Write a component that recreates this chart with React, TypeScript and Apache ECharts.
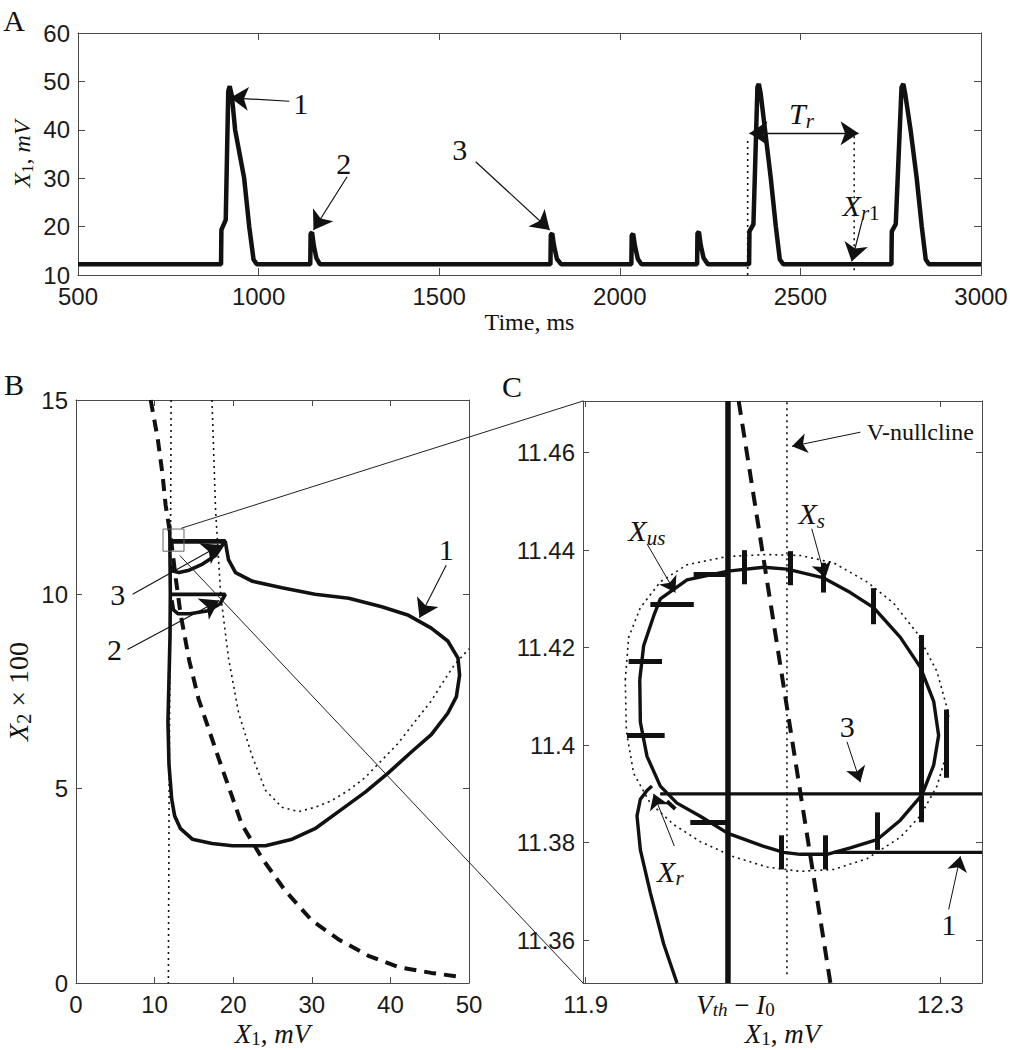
import React, { useEffect, useRef } from "react";
import * as echarts from "echarts";

const SERIF = "Liberation Serif";
const SANS = "Liberation Sans";
const INK = "#111";
const AX = "#4a4a4a";

// ---------- Panel A : X1 (mV) vs time (ms) ----------
const timeA = [500, 896, 897, 909, 916, 920, 926, 935, 960, 974, 986, 995,
  1143, 1144, 1148, 1153, 1160, 1170,
  1808, 1809, 1813, 1818, 1826, 1838,
  2032, 2033, 2037, 2042, 2050, 2060,
  2214, 2215, 2219, 2224, 2232, 2244,
  2358, 2359, 2370, 2381, 2385, 2390, 2402, 2418, 2432, 2443, 2453,
  2752, 2753, 2764, 2780, 2785, 2790, 2805, 2822, 2836, 2847, 2856, 3000];
const x1A = [12.2, 12.2, 19.3, 21.4, 48, 49, 47, 40, 30, 20, 13.2, 12.2,
  12.2, 18.5, 18.8, 16, 13.5, 12.2,
  12.2, 18.3, 18.6, 16, 13.3, 12.2,
  12.2, 18.2, 18.5, 16, 13.3, 12.2,
  12.2, 18.6, 18.9, 16.2, 13.5, 12.2,
  12.2, 19, 20.5, 48.8, 49.5, 47.5, 40, 30, 20, 13.2, 12.2,
  12.2, 19, 20.5, 48.8, 49.5, 47.5, 40, 30, 20, 13.2, 12.2, 12.2];
const arrowsA = [[1085, 45.9, 922, 46.6], [1245, 30.3, 1152, 19.3], [1601, 33.4, 1806, 19.3], [2672, 21.5, 2642, 12.8]];
const periodArrowA = [[2359, 39.3, 2661, 39.3]];
const dottedA = [[2354, 10, 2354, 38.3], [2649, 11, 2649, 39.3]];
const labelsA = [
  { at: [1117, 45.5], text: "1" },
  { at: [1236, 33.1], text: "2" },
  { at: [1557, 35.9], text: "3" },
  { at: [2503, 43.3], text: "{i|T}{s|r}", rich: true },
  { at: [2668, 24.3], text: "{i|X}{s|r}{sr|1}", rich: true },
];

// ---------- Panel B : phase plane X2*100 vs X1 ----------
const dashBX = [9.5, 10.4, 11.0, 11.4, 12.1, 12.7, 13.3, 14.4, 15.6, 18.2, 21.1, 23.7, 26.6, 30.0, 33.4, 37.2, 41.0, 45.2, 49.2];
const dashBY = [15.0, 14.0, 13.1, 12.3, 11.4, 10.4, 9.5, 8.3, 7.3, 5.75, 4.08, 3.2, 2.38, 1.61, 1.12, 0.7, 0.41, 0.26, 0.15];
const vNullBX = [12.1, 12.0, 11.85, 11.75];
const vNullBY = [15, 10, 5, 0];
const uNullBX = [17.3, 17.75, 18.4, 19.4, 20.7, 22.4, 24.1, 26.2, 28.3, 30.4, 32.5, 34.7, 36.8, 38.9, 41.0, 43.1, 45.2, 46.9, 48.2, 50];
const uNullBY = [15, 12.2, 10.0, 8.36, 6.94, 5.84, 4.96, 4.52, 4.41, 4.52, 4.69, 4.96, 5.29, 5.73, 6.17, 6.72, 7.26, 7.81, 8.2, 8.6];
const traj1BX = [11.9, 11.95, 19.0, 19.4, 20.3, 22.4, 26.2, 30.4, 34.7, 38.9, 42.3, 45.2, 47.3, 48.6, 48.8, 48.4, 47.3, 45.2, 42.7, 39.7, 36.8, 33.4, 30.4, 27.5, 24.1, 19.9, 17.3, 14.8, 13.3, 12.55, 12.17, 11.83, 11.7, 11.83, 11.96, 12.0, 11.95, 11.95];
const traj1BY = [11.8, 11.35, 11.35, 10.89, 10.56, 10.34, 10.17, 10.0, 9.9, 9.68, 9.46, 9.13, 8.8, 8.36, 7.92, 7.37, 6.94, 6.39, 5.95, 5.40, 4.91, 4.41, 3.97, 3.70, 3.53, 3.53, 3.59, 3.70, 3.97, 4.30, 4.74, 5.62, 6.72, 7.81, 8.91, 10.0, 11.1, 11.35];
const traj2BX = [12.2, 19.0, 18.3, 16.8, 14.5, 13.0, 12.4, 12.2];
const traj2BY = [10.0, 10.0, 9.75, 9.58, 9.5, 9.5, 9.6, 9.85];
const traj3BX = [12.05, 19.0, 17.75, 16.1, 14.4, 13.1, 12.3, 12.05];
const traj3BY = [11.38, 11.38, 11.0, 10.78, 10.62, 10.56, 10.6, 10.75];
const rectBX = [11.07, 13.74, 13.74, 11.07, 11.07];
const rectBY = [11.11, 11.11, 11.68, 11.68, 11.11];
const arrowsB = [[47.1, 10.75, 43.7, 9.4], [6.55, 8.58, 18.2, 9.84], [7.2, 10.0, 18.4, 11.27]];
const labelsB = [
  { at: [47.1, 11.15], text: "1" },
  { at: [4.9, 8.58], text: "2" },
  { at: [5.3, 10.0], text: "3" },
];
const zoomFromB = [[13.4, 11.7], [13.2, 11.0]];

// ---------- Panel C : zoom near the resting point ----------
const cMin = [11.897, 11.3512];
const cMax = [12.347, 11.4706];
const vThMinusI0 = 12.0605;
const cycCX = [11.961, 11.9654, 11.9767, 11.9842, 12.0143, 12.0605, 12.1008, 12.1271, 12.1684, 12.1985, 12.2248, 12.2549, 12.2774, 12.2925, 12.2981, 12.2925, 12.2793, 12.2549, 12.2286, 12.1985, 12.1722, 12.1421, 12.1233, 12.1, 12.0605, 12.0293, 12.003, 11.9842, 11.9692, 11.9617, 11.961];
const cycCY = [11.4134, 11.4204, 11.4265, 11.43, 11.4339, 11.4357, 11.4365, 11.4361, 11.4343, 11.4313, 11.4282, 11.4221, 11.416, 11.409, 11.402, 11.3959, 11.3898, 11.3846, 11.3806, 11.3789, 11.3776, 11.3776, 11.378, 11.3793, 11.3819, 11.3854, 11.3881, 11.3916, 11.3977, 11.4047, 11.4134];
const dotEllCX = [11.9447, 11.9485, 11.9617, 11.9842, 12.0143, 12.0594, 12.1045, 12.1421, 12.1797, 12.2173, 12.2474, 12.2737, 12.2962, 12.3094, 12.3075, 12.2962, 12.2774, 12.2549, 12.2173, 12.1797, 12.1421, 12.1045, 12.0669, 12.0293, 11.9993, 11.9729, 11.9541, 11.9459, 11.9447];
const dotEllCY = [11.4134, 11.4221, 11.4282, 11.4335, 11.437, 11.4387, 11.4391, 11.4389, 11.4374, 11.4335, 11.4291, 11.423, 11.4151, 11.4064, 11.3985, 11.3916, 11.3855, 11.3811, 11.3767, 11.3745, 11.3741, 11.375, 11.3771, 11.3802, 11.3837, 11.3881, 11.3942, 11.4029, 11.4134];
const hookCX = [12.003, 11.988, 11.973, 11.9617, 11.9579, 11.9617, 11.9692, 11.9748];
const hookCY = [11.3512, 11.3592, 11.3697, 11.3785, 11.3855, 11.3889, 11.3907, 11.3916];
const dashCX = [12.0726, 12.176];
const dashCY = [11.4706, 11.3512];
const vNullCX = [12.127, 12.127];
const vNullCY = [11.353, 11.4706];
const line3CX = [11.984, 12.347];
const line3CY = [11.39, 11.39];
const line1CX = [12.18, 12.347];
const line1CY = [11.378, 11.378];
const hBarX1 = [12.0218, 11.973, 11.9485, 11.9466, 12.018];
const hBarX2 = [12.0605, 12.022, 11.9861, 11.9891, 12.059];
const hBarY = [11.4351, 11.4289, 11.4173, 11.4021, 11.3842];
const vBarX = [12.0793, 12.1308, 12.1677, 12.2248, 12.2782, 12.3068, 12.2286, 12.1703, 12.1207];
const vBarY1 = [11.433, 11.4328, 11.4313, 11.4248, 11.3842, 11.3933, 11.3785, 11.3745, 11.3745];
const vBarY2 = [11.44, 11.4398, 11.4374, 11.4322, 11.4226, 11.4073, 11.3862, 11.3815, 11.3815];
const tailC = [[11.9917, 11.3885, 12.0011, 11.3869]];
const arrowsC = [
  [12.2098, 11.4642, 12.1327, 11.4613],
  [12.155, 11.4444, 12.1703, 11.4343],
  [11.9692, 11.4413, 12.0011, 11.4313],
  [12.1947, 11.4007, 12.2098, 11.3924],
  [12.3094, 11.3663, 12.3226, 11.3772],
  [12.0, 11.3793, 11.9767, 11.39],
];
const labelsC = [
  { at: [12.2775, 11.4642], text: "V-nullcline", size: 24 },
  { at: [12.155, 11.4475], text: "{i|X}{s|s}", rich: true },
  { at: [11.969, 11.444], text: "{i|X}{s|us}", rich: true },
  { at: [12.195, 11.4038], text: "3" },
  { at: [12.3094, 11.3632], text: "1" },
  { at: [11.9955, 11.3741], text: "{i|X}{s|r}", rich: true },
];
const cTicksX = [11.9, 12.3];
const cLabelsX = [11.9, 12.069, 12.3];
const cTicksY = [11.36, 11.38, 11.4, 11.42, 11.44, 11.46];

function pairs(xs: number[], ys: number[]) {
  return xs.map((x, i) => [x, ys[i]]);
}

function mathRich(size: number, lhf = 1.15) {
  const lh = Math.round(size * lhf);
  const sub = Math.round(size * 0.7);
  return {
    i: { fontFamily: SERIF, fontStyle: "italic", fontSize: size, lineHeight: lh, color: INK },
    r: { fontFamily: SERIF, fontSize: size, lineHeight: lh, color: INK },
    s: { fontFamily: SERIF, fontStyle: "italic", fontSize: sub, lineHeight: sub, verticalAlign: "bottom", color: INK },
    sr: { fontFamily: SERIF, fontSize: sub, lineHeight: sub, verticalAlign: "bottom", color: INK },
  };
}

function axis(gridIndex: number, min: number, max: number, o: any) {
  const a: any = {
    type: "value",
    gridIndex,
    min,
    max,
    position: o.position,
    axisLine: { show: true, onZero: false, lineStyle: { color: AX, width: 1 } },
    axisTick: { show: true, inside: true, length: o.tickLen || 6, lineStyle: { color: AX, width: 1 } },
    axisLabel: {
      show: !!o.labels,
      fontFamily: SANS,
      fontSize: 24,
      lineHeight: o.labelLH || 26,
      color: "#1a1a1a",
      margin: o.labelMargin || 8,
      showMinLabel: true,
      showMaxLabel: true,
      formatter: (v: number) => String(v),
    },
    splitLine: { show: false },
  };
  if (o.interval) a.interval = o.interval;
  if (o.ticks) {
    a.axisTick.customValues = o.ticks;
    a.axisLabel.customValues = o.labelsAt || o.ticks;
  }
  if (o.formatter) a.axisLabel.formatter = o.formatter;
  if (o.rich) a.axisLabel.rich = o.rich;
  if (o.name) {
    a.name = o.name;
    a.nameLocation = "middle";
    a.nameGap = o.nameGap;
    a.nameTextStyle = o.nameStyle;
    a.nameMoveOverlap = false;
  }
  return a;
}

function curve(g: number, xs: number[], ys: number[], ls: any, z = 3) {
  return {
    type: "line",
    xAxisIndex: 2 * g,
    yAxisIndex: 2 * g,
    data: pairs(xs, ys),
    symbol: "none",
    silent: true,
    z,
    lineStyle: { color: INK, ...ls },
  };
}

function segments(g: number, list: number[][], ls: any, sym: any, size: number) {
  return {
    type: "line",
    xAxisIndex: 2 * g,
    yAxisIndex: 2 * g,
    data: [],
    symbol: "none",
    silent: true,
    markLine: {
      silent: true,
      animation: false,
      symbol: sym,
      symbolSize: size,
      label: { show: false },
      emphasis: { disabled: true },
      itemStyle: { color: INK },
      lineStyle: { color: INK, type: "solid", ...ls },
      data: list.map((a) => [{ coord: [a[0], a[1]] }, { coord: [a[2], a[3]] }]),
    },
  };
}

const cLabelFmt = (v: number) =>
  Math.abs(v - 12.069) < 1e-6 ? "{i|V}{s|th}{r| − }{i|I}{sr|0}" : v.toFixed(1);

export default function App() {
  const ref = useRef<HTMLDivElement>(null);
  useEffect(() => {
    const chart = echarts.init(ref.current as HTMLDivElement, null, { renderer: "svg" });
    const hBars = hBarY.map((y, i) => [hBarX1[i], y, hBarX2[i], y]);
    const vBars = vBarX.map((x, i) => [x, vBarY1[i], x, vBarY2[i]]);
    const option: any = {
      animation: false,
      backgroundColor: "#ffffff",
      grid: [
        { left: 78, top: 33, width: 903, height: 242, outerBoundsMode: "none" },
        { left: 76, top: 400, width: 393, height: 583, outerBoundsMode: "none" },
        { left: 583, top: 401, width: 399, height: 582, outerBoundsMode: "none" },
      ],
      xAxis: [
        axis(0, 500, 3000, {
          position: "bottom", labels: true, interval: 500, tickLen: 7, labelLH: 22, labelMargin: 10,
          name: "Time, ms", nameGap: 35,
          nameStyle: { fontFamily: SERIF, fontSize: 24, color: INK },
        }),
        axis(0, 500, 3000, { position: "top", interval: 500, tickLen: 7 }),
        axis(1, 0, 50, {
          position: "bottom", labels: true, interval: 10,
          name: "{i|X}{sr|1}{r|, }{i|mV}", nameGap: 37,
          nameStyle: { rich: mathRich(27, 1.05) },
        }),
        axis(1, 0, 50, { position: "top", interval: 10 }),
        axis(2, cMin[0], cMax[0], {
          position: "bottom", labels: true, ticks: cTicksX, labelsAt: cLabelsX,
          formatter: cLabelFmt, rich: mathRich(27, 1.05),
          name: "{i|X}{sr|1}{r|, }{i|mV}", nameGap: 37,
          nameStyle: { rich: mathRich(27, 1.05) },
        }),
        axis(2, cMin[0], cMax[0], { position: "top", ticks: cTicksX }),
      ],
      yAxis: [
        axis(0, 10, 60, {
          position: "left", labels: true, interval: 10, tickLen: 7, labelLH: 22,
          name: "{i|X}{sr|1}{r|, }{i|mV}", nameGap: 42,
          nameStyle: { rich: mathRich(24) },
        }),
        axis(0, 10, 60, { position: "right", interval: 10, tickLen: 7 }),
        axis(1, 0, 15, {
          position: "left", labels: true, interval: 5,
          name: "{i|X}{sr|2}{r| × 100}", nameGap: 42,
          nameStyle: { rich: mathRich(28) },
        }),
        axis(1, 0, 15, { position: "right", interval: 5 }),
        axis(2, cMin[1], cMax[1], {
          position: "left", labels: true, ticks: cTicksY,
          formatter: (v: number) => String(parseFloat(v.toFixed(2))),
        }),
        axis(2, cMin[1], cMax[1], { position: "right", ticks: cTicksY }),
      ],
      series: [
        // A
        curve(0, timeA, x1A, { width: 4.5 }),
        ...dottedA.map((d) => curve(0, [d[0], d[2]], [d[1], d[3]], { width: 1.6, type: [2, 4] })),
        segments(0, arrowsA, { width: 1.2 }, ["none", "arrow"], 18),
        segments(0, periodArrowA, { width: 1.4 }, ["arrow", "arrow"], 18),
        // B
        curve(1, vNullBX, vNullBY, { width: 1.6, type: [2, 4] }, 2),
        curve(1, uNullBX, uNullBY, { width: 1.6, type: [2, 4] }, 2),
        curve(1, dashBX, dashBY, { width: 4, type: [12, 8] }, 2),
        curve(1, traj1BX, traj1BY, { width: 3.6 }),
        curve(1, traj2BX, traj2BY, { width: 3.6 }),
        curve(1, traj3BX, traj3BY, { width: 3.6 }),
        curve(1, rectBX, rectBY, { width: 1, color: "#666" }, 4),
        segments(1, arrowsB, { width: 1.1 }, ["none", "arrow"], 18),
        // C
        curve(2, dotEllCX, dotEllCY, { width: 1.6, type: [2, 4] }, 2),
        curve(2, vNullCX, vNullCY, { width: 1.6, type: [2, 4] }, 2),
        curve(2, dashCX, dashCY, { width: 4, type: [14, 9] }, 2),
        curve(2, [vThMinusI0, vThMinusI0], [cMin[1], cMax[1]], { width: 5.5 }),
        curve(2, cycCX, cycCY, { width: 3.4 }),
        curve(2, hookCX, hookCY, { width: 3.4 }),
        curve(2, line3CX, line3CY, { width: 3.2 }),
        curve(2, line1CX, line1CY, { width: 3.2 }),
        segments(2, hBars, { width: 5 }, ["none", "none"], 0),
        segments(2, vBars, { width: 5 }, ["none", "none"], 0),
        segments(2, tailC, { width: 4 }, ["none", "none"], 0),
        segments(2, arrowsC, { width: 1 }, ["none", "arrow"], 15),
      ],
    };
    chart.setOption(option);

    const px = (g: number, p: number[]) =>
      chart.convertToPixel({ xAxisIndex: 2 * g, yAxisIndex: 2 * g } as any, p) as number[];
    const graphics: any[] = [];
    const addText = (g: number, l: any) => {
      const p = px(g, l.at);
      const style: any = {
        text: l.text,
        fill: INK,
        align: "center",
        verticalAlign: "middle",
        fontFamily: SERIF,
        fontSize: l.size || 30,
      };
      if (l.rich) style.rich = mathRich(30);
      graphics.push({ type: "text", x: p[0], y: p[1], silent: true, z: 50, style });
    };
    labelsA.forEach((l) => addText(0, l));
    labelsB.forEach((l) => addText(1, l));
    labelsC.forEach((l) => addText(2, l));

    // zoom connector lines from the rectangle in B to the frame of C
    const cTop = px(2, [cMin[0], cMax[1]]);
    const cBot = px(2, cMin);
    const z0 = px(1, zoomFromB[0]);
    const z1 = px(1, zoomFromB[1]);
    graphics.push({ type: "line", silent: true, z: 40, shape: { x1: z0[0], y1: z0[1], x2: cTop[0], y2: cTop[1] }, style: { stroke: "#222", lineWidth: 1 } });
    graphics.push({ type: "line", silent: true, z: 40, shape: { x1: z1[0], y1: z1[1], x2: cBot[0], y2: cBot[1] }, style: { stroke: "#222", lineWidth: 1 } });

    // panel letters
    [["A", 14, 20], ["B", 14, 384], ["C", 512, 386]].forEach(([t, x, y]) =>
      graphics.push({
        type: "text", x, y, silent: true,
        style: { text: t, fill: INK, fontFamily: SERIF, fontSize: 30, align: "center", verticalAlign: "middle" },
      })
    );
    chart.setOption({ graphic: graphics });
    return () => chart.dispose();
  }, []);
  return (
    <div
      ref={ref}
      style={{ position: "absolute", left: 0, top: 0, width: 1010, height: 1050, background: "#fff" }}
    />
  );
}
